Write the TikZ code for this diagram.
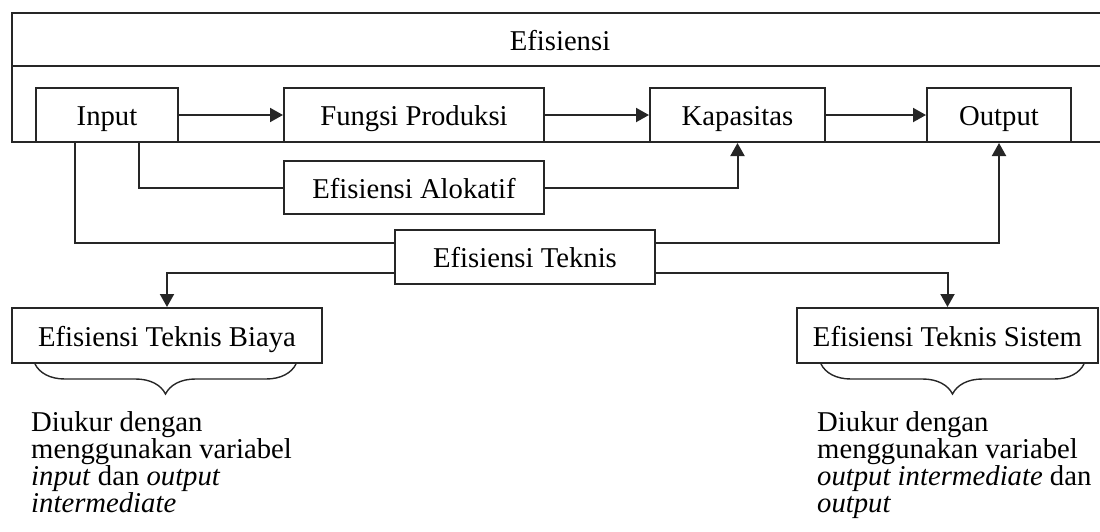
\documentclass[tikz,border=0pt]{standalone}
\usepackage{fontspec}
\setmainfont{Liberation Serif}
\usetikzlibrary{arrows.meta,decorations.pathreplacing}
\newcommand{\fsz}{\fontsize{28.7}{26.7}\selectfont}
\tikzset{
  ln/.style={line width=2pt, draw=black!85},
  boxnode/.style={ln, draw, rectangle, inner sep=0pt, text height=21.5pt, text depth=0.5pt, font=\fsz, fill=white},
  arr/.style={ln, -{Triangle[length=13pt,width=14pt]}},
  bracedeco/.style={line width=1.4pt, draw=black!85, decorate, decoration={brace, amplitude=30pt}},
  note/.style={anchor=base west, align=left, inner sep=0pt, font=\fsz}
}
\begin{document}
\begin{tikzpicture}[x=1pt,y=-1pt]
\useasboundingbox (0,0) rectangle (1100,531);
% outer frame
\draw[ln] (1100,13) -- (12,13) -- (12,142) -- (1100,142);
\draw[ln] (12,66) -- (1100,66);
\node[anchor=base, inner sep=0pt, font=\fsz] (ef) at (560,50) {Efisiensi};
% boxes
\node[boxnode, minimum width=142pt, minimum height=54pt] (inp) at (107,115) {Input};
\node[boxnode, minimum width=260pt, minimum height=54pt] (fun) at (414,115) {Fungsi Produksi};
\node[boxnode, minimum width=175pt, minimum height=54pt] (kap) at (737.5,115) {Kapasitas};
\node[boxnode, minimum width=144pt, minimum height=54pt] (out) at (999,115) {Output};
\node[boxnode, minimum width=260pt, minimum height=53pt] (alo) at (414,187.5) {Efisiensi Alokatif};
\node[boxnode, minimum width=260pt, minimum height=54pt] (tek) at (525,257) {Efisiensi Teknis};
\node[boxnode, minimum width=310pt, minimum height=55pt] (bia) at (167,335.5) {Efisiensi Teknis Biaya};
\node[boxnode, minimum width=301pt, minimum height=55pt] (sis) at (947.5,335.5) {Efisiensi Teknis Sistem};
% arrows in row
\draw[arr] (inp.east) -- (fun.west);
\draw[arr] (fun.east) -- (kap.west);
\draw[arr] (kap.east) -- (out.west);
% allocative
\draw[ln] ([xshift=32pt]inp.south) |- (alo.west);
\draw[arr] (alo.east) -| (kap.south);
% technical
\draw[ln] ([xshift=-32pt]inp.south) |- ([yshift=14pt]tek.west);
\draw[arr] ([yshift=14pt]tek.east) -| (out.south);
\draw[arr] ([yshift=-16pt]tek.west) -| (bia.north);
\draw[arr] ([yshift=-16pt]tek.east) -| (sis.north);
% braces
\draw[bracedeco] ([xshift=-27pt]bia.south east) -- ([xshift=24pt]bia.south west);
\draw[bracedeco] ([xshift=-15pt]sis.south east) -- ([xshift=25pt]sis.south west);
% notes (base anchor = baseline of last line)
\node[note] (n1) at (31,512) {Diukur dengan\\menggunakan variabel\\\textit{input} dan \textit{output}\\\textit{intermediate}};
\node[note] (n2) at (817,512) {Diukur dengan\\menggunakan variabel\\\textit{output intermediate} dan\\\textit{output}};
\end{tikzpicture}
\end{document}
